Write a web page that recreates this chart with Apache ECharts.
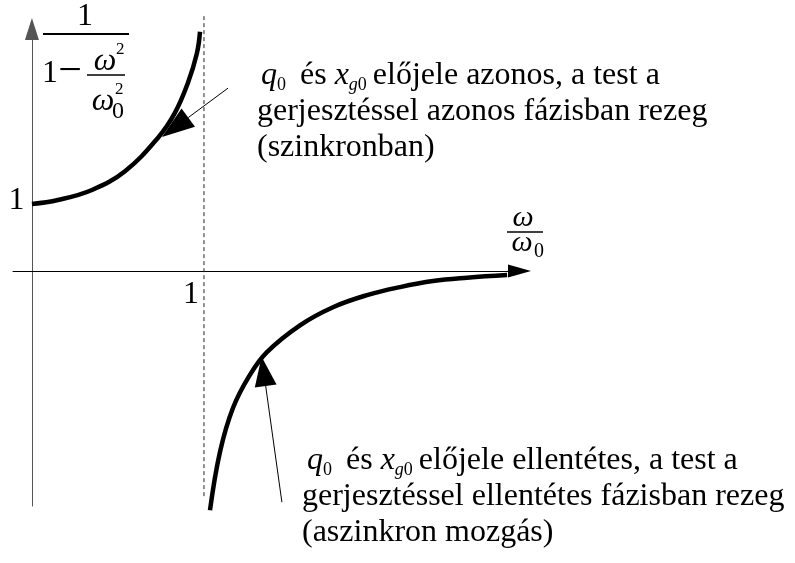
<!DOCTYPE html>
<html>
<head>
<meta charset="utf-8">
<script src="https://cdn.jsdelivr.net/npm/echarts@6/dist/echarts.min.js"></script>
<style>
  html, body { margin: 0; padding: 0; background: #fff; }
  #chart { width: 795px; height: 563px; }
</style>
</head>
<body>
<div id="chart"></div>
<script>
// Amplification factor 1/(1 - (ω/ω0)^2) sketched on both sides of resonance
const belowResonance = [[0, 1.0], [0.151, 1.06], [0.349, 1.21], [0.541, 1.49], [0.733, 1.99], [0.831, 2.36], [0.907, 2.81], [0.959, 3.25], [0.977, 3.57]];
const aboveResonance = [[1.035, -3.57], [1.093, -2.70], [1.169, -2.04], [1.267, -1.55], [1.366, -1.21], [1.558, -0.81], [1.750, -0.54], [1.948, -0.36], [2.140, -0.24], [2.331, -0.15], [2.529, -0.10], [2.762, -0.06]];
// vertical asymptote at ω/ω0 = 1
const asymptote = [[1, -3.36], [1, 3.84]];

// tick labels
const xTickValues = [1];
const xTickLabels = ['1'];
const yTickValues = [1];
const yTickLabels = ['1'];

// pointer arrows: [tail, tip] in data units
const inPhasePointer = [[1.14, 2.73], [0.756, 2.0]];
const antiPhasePointer = [[1.453, -3.45], [1.335, -1.28]];

const SERIF = 'Liberation Serif';

const chart = echarts.init(document.getElementById('chart'), null, { renderer: 'canvas' });

chart.setOption({
  animation: false,
  backgroundColor: '#fff',
  grid: { left: 13, right: 275.5, top: 29, bottom: 57, containLabel: false, outerBoundsMode: 'none' },
  xAxis: {
    type: 'value', min: -0.11, max: 2.834,
    splitLine: { show: false },
    axisTick: { show: false },
    axisLabel: { show: false },
    axisLine: {
      onZero: true,
      lineStyle: { color: '#000', width: 1 },
      symbol: ['none', 'triangle'], symbolSize: [13, 23]
    }
  },
  yAxis: {
    type: 'value', min: -3.507, max: 3.612,
    splitLine: { show: false },
    axisTick: { show: false },
    axisLabel: { show: false },
    axisLine: {
      onZero: true,
      lineStyle: { color: '#555', width: 1 },
      symbol: ['none', 'triangle'], symbolSize: [14, 22]
    }
  },
  series: [
    {
      type: 'line', name: 'below', data: belowResonance, smooth: 0.4, showSymbol: false, clip: false,
      lineStyle: { color: '#000', width: 4.5 }, z: 5
    },
    {
      type: 'line', name: 'above', data: aboveResonance, smooth: 0.4, showSymbol: false, clip: false,
      lineStyle: { color: '#000', width: 4.5 }, z: 5
    },
    {
      type: 'line', name: 'asymptote', data: asymptote, showSymbol: false, clip: false,
      lineStyle: { color: '#222', width: 1, type: [4, 3] }, z: 1
    }
  ]
});

const toPx = p => chart.convertToPixel({ gridIndex: 0 }, p);

// pointer arrows built from data coordinates
function pointer(pair, headLen, headHalf) {
  const a = toPx(pair[0]);
  const b = toPx(pair[1]);
  const dx = b[0] - a[0], dy = b[1] - a[1];
  const L = Math.hypot(dx, dy);
  const ux = dx / L, uy = dy / L;
  const bx = b[0] - ux * headLen, by = b[1] - uy * headLen;
  const nx = -uy * headHalf, ny = ux * headHalf;
  return [
    { type: 'line', shape: { x1: a[0], y1: a[1], x2: bx, y2: by }, style: { stroke: '#000', lineWidth: 1 }, z: 10 },
    { type: 'polygon', shape: { points: [[b[0], b[1]], [bx + nx, by + ny], [bx - nx, by - ny]] }, style: { fill: '#000' }, z: 10 }
  ];
}

const txt = (x, y, text, size, extra) => ({
  type: 'text', x, y, z: 10,
  style: Object.assign({ text, fontFamily: SERIF, fontSize: size, fill: '#000', align: 'center', verticalAlign: 'middle' }, extra || {})
});
const bar = (x1, x2, y, w) => ({ type: 'line', shape: { x1, y1: y, x2, y2: y }, style: { stroke: '#000', lineWidth: w }, z: 10 });

// tick labels placed at their axis values, next to the crossing axes
const ticks = [].concat(
  xTickValues.map((v, i) => {
    const p = toPx([v, 0]);
    return txt(p[0] - 5, p[1] + 23.2, xTickLabels[i], 32, { align: 'right' });
  }),
  yTickValues.map((v, i) => {
    const p = toPx([0, v]);
    return txt(p[0] - 7.5, p[1] - 3.8, yTickLabels[i], 32, { align: 'right' });
  })
);

const it = { fontStyle: 'italic' };
const richNote = {
  i: { fontFamily: SERIF, fontStyle: 'italic', fontSize: 32, lineHeight: 36 },
  s: { fontFamily: SERIF, fontSize: 18, lineHeight: 14, verticalAlign: 'bottom' },
  sq: { fontFamily: SERIF, fontSize: 18, lineHeight: 14, verticalAlign: 'bottom', padding: [0, 6, 0, 0] },
  se: { fontFamily: SERIF, fontSize: 18, lineHeight: 14, verticalAlign: 'bottom', padding: [0, 6, 0, 0] },
  si: { fontFamily: SERIF, fontStyle: 'italic', fontSize: 18, lineHeight: 14, verticalAlign: 'bottom' }
};
const note = (x, y, text) => ({
  type: 'text', x, y, z: 10,
  style: { text, fontFamily: SERIF, fontSize: 32, lineHeight: 36, fill: '#000', align: 'left', verticalAlign: 'top', rich: richNote }
});

chart.setOption({
  graphic: [].concat(
    pointer(inPhasePointer, 32.7, 11.3),
    pointer(antiPhasePointer, 29.5, 11),
    ticks,
    [
      // y axis name: 1 / (1 - ω²/ω0²)
      txt(85, 17, '1', 32),
      bar(43, 129, 34, 2),
      txt(42, 74, '1', 32, { align: 'left' }),
      txt(70, 72.3, '−', 42),
      bar(87, 125, 75, 1.5),
      txt(105, 61.2, 'ω', 32, it),
      txt(116, 49.6, '2', 17, { align: 'left' }),
      txt(103, 101.2, 'ω', 32, it),
      txt(112, 111.9, '0', 24, { align: 'left' }),
      txt(115, 89.3, '2', 17, { align: 'left' }),
      // x axis name: ω / ω0
      txt(523, 217.9, 'ω', 30, it),
      bar(507, 543, 232, 1.5),
      txt(522, 242.9, 'ω', 30, it),
      txt(534, 251.25, '0', 20, { align: 'left' }),
      // notes
      note(261, 58, '{i|q}{sq|0} és {i|x}{si|g}{se|0}előjele azonos, a test a'),
      note(257, 94, 'gerjesztéssel azonos fázisban rezeg\n(szinkronban)'),
      note(307, 443, '{i|q}{sq|0} és {i|x}{si|g}{se|0}előjele ellentétes, a test a'),
      note(302, 479, 'gerjesztéssel ellentétes fázisban rezeg\n(aszinkron mozgás)')
    ]
  )
});
</script>
</body>
</html>
